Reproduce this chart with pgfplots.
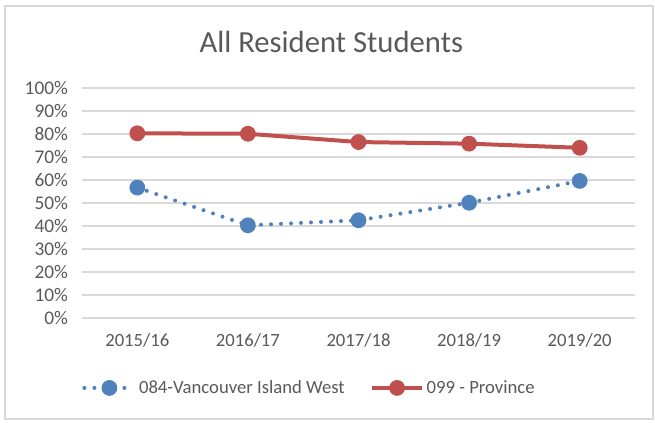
\documentclass[border=0pt]{standalone}
\usepackage{fontspec}
\setmainfont{Carlito}
\usepackage{pgfplots}
\pgfplotsset{compat=1.18}
\definecolor{seriesblue}{HTML}{4F81BD}
\definecolor{seriesred}{HTML}{C0504D}
\definecolor{txtgray}{HTML}{595959}
\definecolor{gridgray}{HTML}{D9D9D9}

\begin{document}
\begin{tikzpicture}
% whole chart area, 1px = 0.75pt, origin at lower left of plot area
\useasboundingbox (-61.5pt,-78pt) rectangle (429.75pt,238.5pt);
\draw[gridgray, line width=1.1pt] (-57.75pt,-75.75pt) rectangle (428.25pt,234pt);
\node[anchor=base, text=txtgray, font=\fontsize{23}{27}\selectfont]
  at (187pt,199.5pt) {All Resident Students};
\begin{axis}[
    at={(0pt,0pt)}, anchor=south west,
    scale only axis,
    width=414.75pt, height=172.5pt,
    xmin=-0.5, xmax=4.5,
    ymin=0, ymax=1,
    xtick={0,1,2,3,4},
    xticklabels={2015/16, 2016/17, 2017/18, 2018/19, 2019/20},
    ytick={0,0.1,0.2,0.3,0.4,0.5,0.6,0.7,0.8,0.9,1},
    yticklabels={0\%,10\%,20\%,30\%,40\%,50\%,60\%,70\%,80\%,90\%,100\%},
    ymajorgrids=true,
    grid style={gridgray, line width=1pt},
    axis line style={draw=none},
    major tick length=0pt,
    ticklabel style={font=\fontsize{14}{16}\selectfont, text=txtgray},
    yticklabel style={xshift=-7pt, font=\fontsize{14.5}{16}\selectfont},
    xticklabel style={yshift=-8pt},
    clip=false,
    legend columns=2,
    legend style={at={(-0.007,-0.304)}, anchor=west, draw=none, fill=none,
        font=\fontsize{14}{16}\selectfont, text=txtgray,
        /tikz/every even column/.append style={column sep=17pt}},
    legend image code/.code={
        \draw[mark repeat=2, mark phase=2, #1]
          plot coordinates {(0pt,0pt) (18.75pt,0pt) (37.5pt,0pt)};
    },
]
\addplot[seriesblue, line width=3pt, line cap=round, dash pattern=on 0pt off 7.5pt,
    mark=*, mark size=4.4pt, mark options={solid, draw=none, fill=seriesblue}]
  coordinates {(0,0.567) (1,0.403) (2,0.425) (3,0.501) (4,0.596)};
\addlegendentry{084-Vancouver Island West}
\addplot[seriesred, line width=3pt,
    mark=*, mark size=4.4pt, mark options={solid, draw=none, fill=seriesred}]
  coordinates {(0,0.803) (1,0.801) (2,0.765) (3,0.758) (4,0.740)};
\addlegendentry{099 - Province}
\end{axis}
\end{tikzpicture}
\end{document}
